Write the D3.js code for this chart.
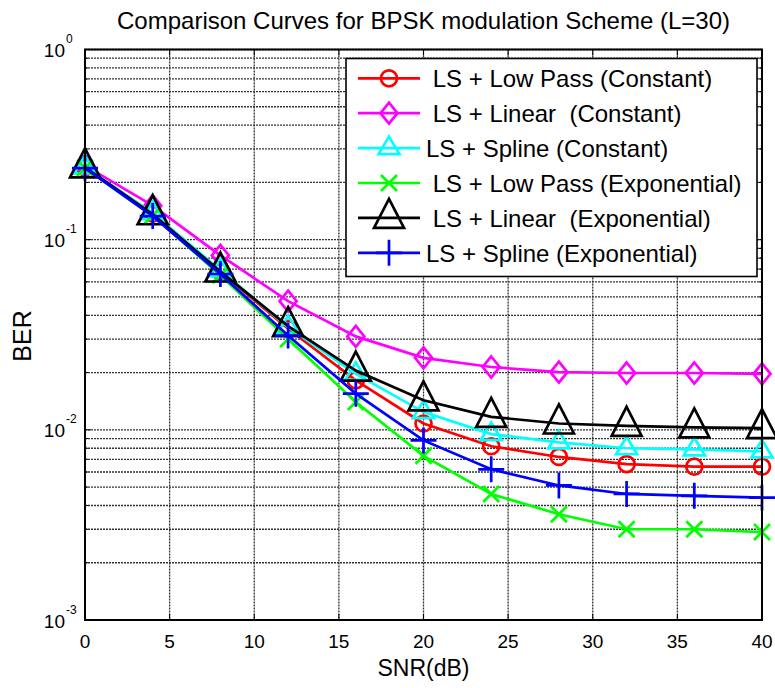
<!DOCTYPE html>
<html>
<head>
<meta charset="utf-8">
<script src="https://cdn.jsdelivr.net/npm/d3@7"></script>
<style>
  body { margin: 0; background: #fff; }
  text { font-family: "Liberation Sans", Arial, Helvetica, sans-serif; fill: #000; }
</style>
</head>
<body>
<svg id="chart" width="775" height="688"></svg>
<script>
// data
const snr = [0, 4, 8, 12, 16, 20, 24, 28, 32, 36, 40];
const lowPassConst = [0.240, 0.137, 0.068, 0.0340, 0.0182, 0.0108, 0.0082, 0.0072, 0.0066, 0.0064, 0.0064];
const linearConst = [0.245, 0.151, 0.0826, 0.0475, 0.0310, 0.0239, 0.0214, 0.0201, 0.0199, 0.0199, 0.0197];
const splineConst = [0.240, 0.138, 0.069, 0.0347, 0.0197, 0.0124, 0.0095, 0.0086, 0.0080, 0.0079, 0.0077];
const lowPassExp = [0.238, 0.134, 0.065, 0.0300, 0.0140, 0.0073, 0.0046, 0.0036, 0.0030, 0.0030, 0.0029];
const linearExp = [0.240, 0.136, 0.068, 0.0351, 0.0205, 0.0143, 0.0117, 0.0108, 0.0105, 0.0103, 0.0102];
const splineExp = [0.238, 0.133, 0.066, 0.0313, 0.0155, 0.0088, 0.0062, 0.0051, 0.0046, 0.0045, 0.0044];

const seriesNames = [" LS + Low Pass (Constant)", " LS + Linear  (Constant)", "LS + Spline (Constant)",
                     " LS + Low Pass (Exponential)", " LS + Linear  (Exponential)", "LS + Spline (Exponential)"];
const seriesColors = ["#ff0000", "#ff00ff", "#00ffff", "#00ff00", "#000000", "#0000ff"];
const seriesMarkers = ["circle", "diamond", "triangle", "cross", "bigTriangle", "plus"];
const seriesValues = [lowPassConst, linearConst, splineConst, lowPassExp, linearExp, splineExp];

const xTicks = [0, 5, 10, 15, 20, 25, 30, 35, 40];
const yTicks = [1e-3, 1e-2, 1e-1, 1];
const yExponents = ["-3", "-2", "-1", "0"];

function init() {
    chart();
}

// marker path around (0,0)
function markerPath(type) {
    if (type == "circle") return d3.symbol(d3.symbolCircle, 200)();
    if (type == "diamond") return "M0,-10.5L8.5,0L0,10.5L-8.5,0Z";
    if (type == "triangle") return "M0,-11.5L10.5,6L-10.5,6Z";
    if (type == "bigTriangle") return "M0,-19L15,10L-15,10Z";
    if (type == "cross") return "M-8,-8L8,8M-8,8L8,-8";
    if (type == "plus") return "M-13,0L13,0M0,-13L0,13";
}

function chart() {
    const svg = d3.select("#chart");
    const left = 85, right = 762, top = 49.5, bottom = 620;

    const x = d3.scaleLinear().domain([0, 40]).range([left, right]);
    const y = d3.scaleLog().domain([1e-3, 1]).range([bottom, top]);

    // minor values 2..9 for each decade
    const minor = [];
    [1e-3, 1e-2, 1e-1].forEach(d => {
        for (let k = 2; k <= 9; k++) minor.push(d * k);
    });

    // grid
    const grid = svg.append("g")
        .attr("stroke", "#333")
        .attr("stroke-width", 1.3)
        .attr("stroke-dasharray", "2,1");

    grid.selectAll(".hg")
        .data(yTicks.concat(minor))
        .join("line")
        .attr("x1", left).attr("x2", right)
        .attr("y1", d => y(d)).attr("y2", d => y(d));

    grid.selectAll(".vg")
        .data(xTicks)
        .join("line")
        .attr("y1", top).attr("y2", bottom)
        .attr("x1", d => x(d)).attr("x2", d => x(d));

    // inward ticks on all four sides
    const ticks = svg.append("g").attr("stroke", "#000").attr("stroke-width", 1);
    xTicks.forEach(d => {
        ticks.append("line").attr("x1", x(d)).attr("x2", x(d)).attr("y1", bottom).attr("y2", bottom - 6);
        ticks.append("line").attr("x1", x(d)).attr("x2", x(d)).attr("y1", top).attr("y2", top + 6);
    });
    yTicks.concat(minor).forEach(d => {
        const len = yTicks.includes(d) ? 6 : 3;
        ticks.append("line").attr("x1", left).attr("x2", left + len).attr("y1", y(d)).attr("y2", y(d));
        ticks.append("line").attr("x1", right).attr("x2", right - len).attr("y1", y(d)).attr("y2", y(d));
    });

    // x tick labels
    svg.append("g")
        .selectAll("text")
        .data(xTicks)
        .join("text")
        .attr("x", d => x(d))
        .attr("y", 648)
        .attr("text-anchor", "middle")
        .attr("font-size", "19px")
        .text(d => d);

    // y tick labels as 10^n
    const yl = svg.append("g");
    yTicks.forEach((d, i) => {
        yl.append("text")
            .attr("x", 65)
            .attr("y", y(d) + 7.5)
            .attr("text-anchor", "end")
            .attr("font-size", "19px")
            .text("10");
        yl.append("text")
            .attr("x", 66)
            .attr("y", y(d) - 6.5)
            .attr("font-size", "12px")
            .text(yExponents[i]);
    });

    // lines and markers
    const line = d3.line()
        .x((d, i) => x(snr[i]))
        .y(d => y(d));

    seriesValues.forEach((vals, s) => {
        const g = svg.append("g");
        g.append("path")
            .datum(vals)
            .attr("d", line)
            .attr("fill", "none")
            .attr("stroke", seriesColors[s])
            .attr("stroke-width", 2.7);
        g.selectAll(".m")
            .data(vals)
            .join("path")
            .attr("transform", (d, i) => "translate(" + x(snr[i]) + "," + y(d) + ")")
            .attr("d", markerPath(seriesMarkers[s]))
            .attr("fill", "none")
            .attr("stroke", seriesColors[s])
            .attr("stroke-width", 2.7);
    });

    // axes box
    svg.append("rect")
        .attr("x", left).attr("y", top)
        .attr("width", right - left).attr("height", bottom - top)
        .attr("fill", "none")
        .attr("stroke", "#000")
        .attr("stroke-width", 2);

    // legend
    const legend = svg.append("g");
    legend.append("rect")
        .attr("x", 346).attr("y", 58.5)
        .attr("width", 411).attr("height", 218)
        .attr("fill", "#fff")
        .attr("stroke", "#000")
        .attr("stroke-width", 1.6);

    seriesNames.forEach((name, s) => {
        const cy = 78.3 + s * 34.9;
        legend.append("line")
            .attr("x1", 358).attr("x2", 420)
            .attr("y1", cy).attr("y2", cy)
            .attr("stroke", seriesColors[s])
            .attr("stroke-width", 2.7);
        legend.append("path")
            .attr("transform", "translate(389," + cy + ")")
            .attr("d", markerPath(seriesMarkers[s]))
            .attr("fill", "none")
            .attr("stroke", seriesColors[s])
            .attr("stroke-width", 2.7);
        legend.append("text")
            .attr("x", 426)
            .attr("y", cy + 9)
            .attr("font-size", "24px")
            .style("white-space", "pre")
            .text(name);
    });

    // title and axis labels
    svg.append("text")
        .attr("x", (left + right) / 2)
        .attr("y", 29)
        .attr("text-anchor", "middle")
        .attr("font-size", "24px")
        .text("Comparison Curves for BPSK modulation Scheme (L=30)");

    svg.append("text")
        .attr("x", (left + right) / 2)
        .attr("y", 676)
        .attr("text-anchor", "middle")
        .attr("font-size", "23px")
        .text("SNR(dB)");

    svg.append("text")
        .attr("transform", "translate(31,336) rotate(-90)")
        .attr("text-anchor", "middle")
        .attr("font-size", "25px")
        .text("BER");
}

window.onload = init;
</script>
</body>
</html>
